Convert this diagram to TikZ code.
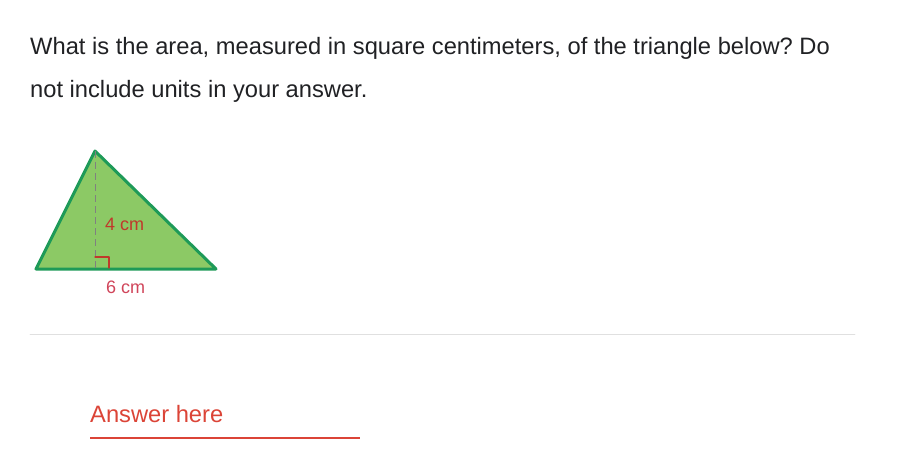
\documentclass[tikz,border=0pt]{standalone}
\usepackage{fontspec}
\setmainfont{Liberation Sans}
\usepackage{tikz}
\usetikzlibrary{positioning}
\usetikzlibrary{calc}
\frenchspacing

\definecolor{qtext}{HTML}{202124}
\definecolor{trifill}{HTML}{8CC965}
\definecolor{triedge}{HTML}{1E9A58}
\definecolor{lblred}{HTML}{C0392B}
\definecolor{lblpink}{HTML}{D0455A}
\definecolor{ansred}{HTML}{DB4437}
\definecolor{rulegray}{HTML}{E0E0E0}

\begin{document}
\begin{tikzpicture}[x=1pt, y=-1pt, line cap=round, line join=round]
            % page frame
            \useasboundingbox (0,0) rectangle (902,460);

            % question text
            \node[anchor=base west, inner sep=0pt, text=qtext, font=\fontsize{23.7}{28}\selectfont] (q1) at (30,55) {What is the area, measured in square centimeters, of the triangle below? Do};
            \node[anchor=base west, inner sep=0pt, text=qtext, font=\fontsize{23.7}{28}\selectfont] (q2) at (30,97) {not include units in your answer.};

            % triangle corners
            \coordinate (A) at (95,151);
            \coordinate (L) at (36,269);
            \coordinate (R) at (216,269);
            \coordinate (F) at (95,269);

            % triangle
            \filldraw[fill=trifill, draw=triedge, line width=3pt] (L) -- (A) -- (R) -- cycle;

            % height (dashed) and right angle mark
            \draw[gray, dash pattern=on 7pt off 4pt, line width=1pt, line cap=butt] (A) -- (F);
            \draw[lblred, line width=1.3pt] ($(F)+(0,-12)$) -- ($(F)+(14,-12)$) -- ($(F)+(14,-1)$);

            % labels
            \node[anchor=west, inner sep=0pt, text=lblred, font=\fontsize{18}{20}\selectfont] (h) at (105,224) {4 cm};
            \node[anchor=west, inner sep=0pt, text=lblpink, font=\fontsize{18}{20}\selectfont] (b) at (106,287) {6 cm};

            % divider
            \draw[rulegray, line width=0.8pt] (30,334) -- (855,334);

            % answer field
            \node[anchor=base west, inner sep=0pt, text=ansred, font=\fontsize{23.7}{28}\selectfont] (ans) at (90,422) {Answer here};
            \draw[ansred, line width=1.8pt, line cap=butt] (90,438) -- (360,438);
        \end{tikzpicture}
\end{document}
